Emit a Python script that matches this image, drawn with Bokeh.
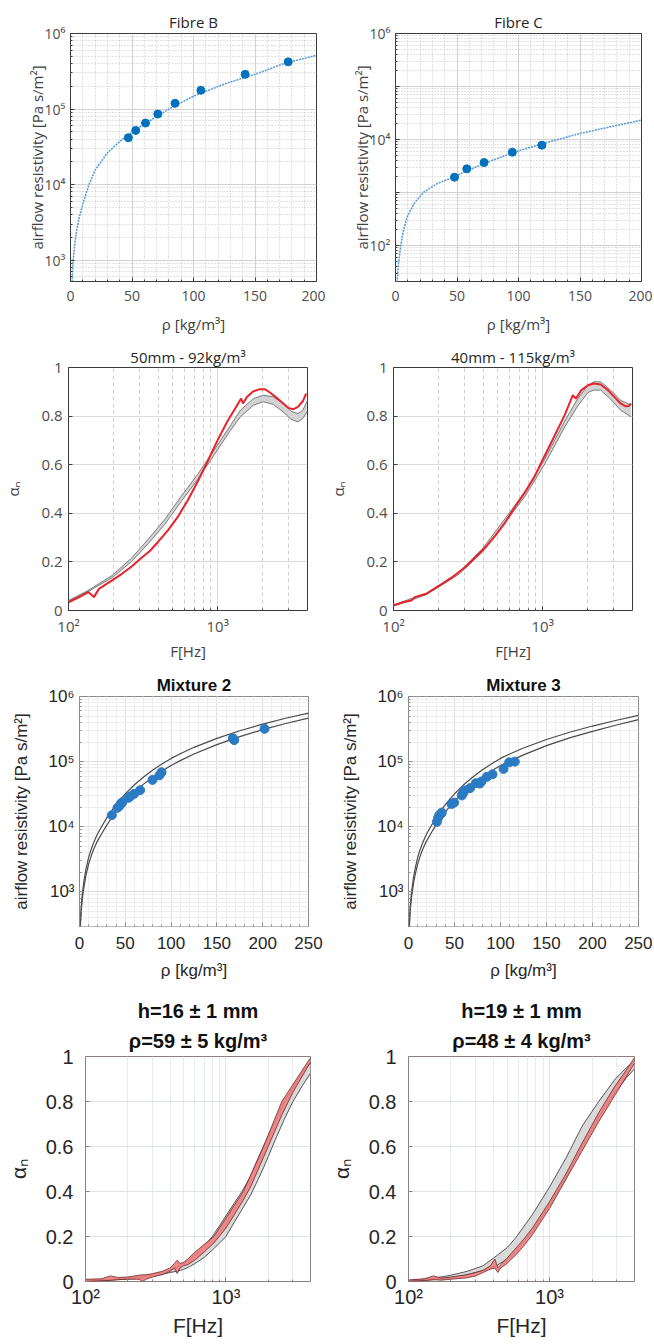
from bokeh.plotting import figure
from bokeh.models import Range1d, FixedTicker, CustomJSTickFormatter, Title
from bokeh.layouts import column, row
from bokeh.embed import file_html
from bokeh.resources import INLINE

# ---------------- data ----------------
# Fibre B
fibB_rho = [47, 53, 61, 71, 85, 106, 142, 177]
fibB_sigma = [41700, 52100, 65200, 85900, 119000, 177000, 288000, 421000]
fitB_rho = [1.0, 1.35, 1.7, 2.2, 3, 4, 5, 7, 10, 15, 20, 30, 40, 50, 60, 80, 100, 125, 150, 175, 200]
fitB_sigma = [300, 525, 740, 1000, 1380, 1900, 2450, 3630, 5500, 10000, 15500, 26300, 37200,
              49000, 63100, 100000, 148000, 214000, 288000, 407000, 513000]
# Fibre C
fibC_rho = [48, 58, 72, 95, 119]
fibC_sigma = [1950, 2800, 3680, 5770, 7820]
fitC_rho = [1.0, 1.4, 2, 2.7, 4, 5.4, 7, 9.5, 15, 23, 34, 47, 60, 80, 100, 125, 150, 175, 200]
fitC_sigma = [12, 21, 35, 52, 89, 145, 214, 347, 617, 1020, 1480, 1950, 2700, 4170, 6100,
              9040, 13000, 17400, 23200]

# 50mm - 92 kg/m3
f3_red = [100, 118, 136, 148, 160, 196, 228, 265, 309, 351, 398, 464, 540, 629, 732, 852, 990,
          1155, 1350, 1435, 1478, 1570, 1735, 1920, 2070, 2240, 2490, 2750, 2970, 3200, 3450,
          3720, 3920]
a3_red = [0.034, 0.055, 0.076, 0.055, 0.089, 0.124, 0.151, 0.181, 0.217, 0.245, 0.282, 0.33,
          0.385, 0.453, 0.529, 0.611, 0.696, 0.776, 0.845, 0.872, 0.852, 0.879, 0.902, 0.911,
          0.911, 0.897, 0.875, 0.852, 0.834, 0.828, 0.838, 0.861, 0.893]
f3_band = [100, 135, 196, 265, 342, 441, 569, 732, 944, 1220, 1420, 1735, 2020, 2360, 2750,
           3100, 3450, 3720, 3960]
a3_up = [0.041, 0.082, 0.144, 0.216, 0.293, 0.374, 0.47, 0.559, 0.659, 0.762, 0.824, 0.872,
         0.886, 0.879, 0.852, 0.82, 0.81, 0.824, 0.859]
a3_lo = [0.038, 0.078, 0.135, 0.202, 0.275, 0.354, 0.449, 0.538, 0.639, 0.742, 0.797, 0.845,
         0.859, 0.848, 0.817, 0.787, 0.776, 0.79, 0.817]

# 40mm - 115 kg/m3
f4_red = [100, 116, 132, 139, 166, 204, 243, 256, 306, 356, 415, 483, 563, 656, 763, 889, 1035,
          1206, 1404, 1592, 1670, 1818, 2011, 2200, 2450, 2735, 3020, 3330, 3580, 3780, 3910]
a4_red = [0.021, 0.034, 0.041, 0.055, 0.069, 0.103, 0.133, 0.144, 0.181, 0.22, 0.261, 0.309,
          0.364, 0.429, 0.488, 0.556, 0.639, 0.721, 0.804, 0.886, 0.872, 0.907, 0.927, 0.934,
          0.93, 0.907, 0.879, 0.852, 0.841, 0.842, 0.852]
f4_band = [100, 166, 276, 394, 563, 763, 1035, 1404, 1720, 2011, 2200, 2450, 2850, 3330, 3910]
a4_up = [0.023, 0.071, 0.158, 0.254, 0.38, 0.49, 0.625, 0.779, 0.872, 0.927, 0.941, 0.941,
         0.907, 0.865, 0.845]
a4_lo = [0.018, 0.065, 0.15, 0.24, 0.364, 0.471, 0.604, 0.755, 0.842, 0.897, 0.907, 0.907,
         0.87, 0.824, 0.797]

# Mixture 2
mix2_rho = [35.3, 41.5, 43.7, 45.1, 46.9, 53.5, 55.3, 59.7, 66.2, 79.7, 87.3, 89.5, 167.4, 168.9, 202]
mix2_sigma = [15100, 19600, 21000, 22600, 23900, 27900, 29200, 32100, 36500, 52500, 61700,
              68700, 229000, 214000, 319000]
band_rho = [0.6, 1.1, 2, 3.3, 5, 7, 9.8, 12, 15, 19, 24, 30, 35, 40, 45, 50, 60, 70, 80, 90,
            100, 110, 125, 150, 175, 200, 225, 250]
mix2_up = [240, 380, 631, 1000, 1514, 2213, 3311, 4217, 5495, 7413, 10000, 13804, 17579, 21878,
           26607, 31989, 44157, 58210, 74473, 92257, 112202, 132434, 165959, 228034, 298538,
           377572, 463447, 557186]
mix2_lo = [214, 331, 537, 832, 1230, 1778, 2630, 3311, 4365, 5821, 7762, 10715, 13646, 16982,
           20654, 24831, 34277, 45186, 57810, 71614, 87096, 103753, 130918, 182810, 242661,
           309742, 384592, 465586]
# Mixture 3
mix3_rho = [30.8, 32.2, 33.3, 35.1, 36.2, 46.7, 49.6, 58, 59.4, 61.2, 67, 73.2, 77.5, 79.3,
            85.1, 91.3, 103.3, 109.4, 115.6]
mix3_sigma = [11900, 13700, 14900, 15800, 16500, 22400, 23500, 30300, 33000, 36200, 39300,
              46800, 46200, 49500, 58400, 64100, 77300, 97700, 100000]
mix3_up = [240, 380, 631, 1000, 1514, 2213, 3311, 4217, 5495, 7413, 10000, 13804, 17579, 21878,
           26607, 31989, 44157, 58210, 74473, 92257, 112202, 131000, 162000, 219000, 283000,
           352000, 428000, 513000]
mix3_lo = [214, 331, 537, 832, 1230, 1778, 2630, 3311, 4365, 5821, 7762, 10715, 13646, 16982,
           20654, 24831, 34277, 45186, 57810, 71614, 87096, 102000, 127000, 176000, 232000,
           292000, 362000, 442000]

# h=16 mm
f7_band = [100, 150, 200, 250, 300, 350, 400, 450, 500, 560, 620, 700, 800, 900, 1000, 1150,
           1300, 1500, 1700, 1850, 2000, 2300, 2600, 3000, 3500, 4000]
a7_up = [0.005, 0.01, 0.016, 0.023, 0.032, 0.041, 0.05, 0.066, 0.082, 0.1, 0.125, 0.157, 0.2,
         0.248, 0.292, 0.35, 0.4, 0.468, 0.55, 0.6, 0.645, 0.73, 0.8, 0.865, 0.93, 0.97]
a7_lo = [0.002, 0.006, 0.011, 0.016, 0.023, 0.032, 0.04, 0.046, 0.054, 0.068, 0.085, 0.107,
         0.14, 0.171, 0.2, 0.265, 0.32, 0.385, 0.455, 0.505, 0.555, 0.645, 0.72, 0.8, 0.87, 0.925]
f7_meas = [100, 130, 150, 170, 200, 240, 255, 270, 300, 350, 400, 430, 450, 470, 500, 535, 600,
           700, 820, 1000, 1150, 1330, 1500, 1700, 1850, 2100, 2500, 3000, 3500, 4000]
a7_mup = [0.01, 0.012, 0.025, 0.018, 0.02, 0.028, 0.03, 0.03, 0.035, 0.045, 0.06, 0.08, 0.095,
          0.08, 0.085, 0.1, 0.13, 0.165, 0.2, 0.282, 0.34, 0.4, 0.473, 0.548, 0.6, 0.684, 0.8,
          0.876, 0.94, 0.995]
a7_mlo = [0.0, 0.003, 0.005, 0.008, 0.01, 0.01, 0.0, 0.01, 0.02, 0.03, 0.045, 0.06, 0.035, 0.06,
          0.07, 0.075, 0.095, 0.131, 0.171, 0.237, 0.298, 0.362, 0.421, 0.499, 0.551, 0.631,
          0.74, 0.841, 0.913, 0.975]
# h=19 mm
f8_band = [100, 150, 197, 260, 338, 420, 500, 580, 760, 1000, 1310, 1700, 2230, 2920, 3500, 4000]
a8_up = [0.004, 0.015, 0.027, 0.045, 0.07, 0.114, 0.15, 0.197, 0.30, 0.42, 0.55, 0.69, 0.80,
         0.90, 0.95, 0.98]
a8_lo = [0.002, 0.008, 0.015, 0.03, 0.049, 0.07, 0.1, 0.135, 0.227, 0.34, 0.46, 0.60, 0.73,
         0.84, 0.905, 0.945]
f8_meas = [100, 130, 150, 170, 200, 258, 300, 338, 380, 410, 420, 430, 450, 494, 580, 660, 760,
           1000, 1310, 1700, 2230, 2920, 3500, 4000]
a8_mup = [0.007, 0.012, 0.025, 0.015, 0.02, 0.03, 0.04, 0.05, 0.07, 0.1, 0.08, 0.06, 0.075, 0.1,
          0.15, 0.19, 0.24, 0.355, 0.48, 0.615, 0.75, 0.87, 0.94, 0.995]
a8_mlo = [0.001, 0.004, 0.008, 0.006, 0.01, 0.016, 0.025, 0.04, 0.055, 0.06, 0.05, 0.04, 0.06,
          0.078, 0.12, 0.16, 0.21, 0.325, 0.455, 0.58, 0.71, 0.83, 0.91, 0.97]

# ---------------- helpers ----------------
SUP_CODE = """
const m = {"0":"\u2070","1":"\u00b9","2":"\u00b2","3":"\u00b3","4":"\u2074","5":"\u2075",
           "6":"\u2076","7":"\u2077","8":"\u2078","9":"\u2079","-":"\u207b"};
const e = Math.round(Math.log10(tick));
if (skip_odd && (e % 2 != 0)) { return ""; }
return "10" + String(e).split("").map(c => m[c]).join("");
"""
LIN_CODE = "return (Math.round(tick*10)/10).toString();"


def sup_fmt(skip_odd=False):
    return CustomJSTickFormatter(code=SUP_CODE, args=dict(skip_odd=skip_odd))


def log_ticker(e0, e1):
    major = [10.0 ** e for e in range(e0, e1 + 1)]
    minor = [k * 10.0 ** e for e in range(e0 - 1, e1 + 1) for k in range(2, 10)]
    return FixedTicker(ticks=major, minor_ticks=minor)


def base(w, h, xr, yr, xt, yt, bl, br, bt, bb):
    p = figure(width=w, height=h, x_range=Range1d(*xr), y_range=Range1d(*yr),
               x_axis_type=xt, y_axis_type=yt, output_backend="svg", toolbar_location=None,
               min_border_left=bl, min_border_right=br, min_border_top=bt, min_border_bottom=bb,
               background_fill_color="white", border_fill_color="white")
    return p


def style(p, font, tick_size, label_size, tick_color, label_color, outline):
    p.outline_line_color = outline
    p.outline_line_alpha = 1.0
    p.outline_line_width = 1
    for ax in (p.xaxis[0], p.yaxis[0]):
        ax.axis_line_color = None
        ax.major_tick_in = 4
        ax.major_tick_out = 0
        ax.minor_tick_in = 2
        ax.minor_tick_out = 0
        ax.major_tick_line_color = outline
        ax.minor_tick_line_color = outline
        ax.major_label_text_font = font
        ax.major_label_text_font_size = tick_size
        ax.major_label_text_color = tick_color
        ax.axis_label_text_font = font
        ax.axis_label_text_font_size = label_size
        ax.axis_label_text_color = label_color
        ax.axis_label_text_font_style = "normal"


def title(p, text, font, size, bold=False, standoff=3, color="#262626"):
    t = Title(text=text, align="center", text_font=font, text_font_size=size,
              text_font_style="bold" if bold else "normal", text_color=color, standoff=standoff)
    p.add_layout(t, "above")


F1 = "Open Sans"
F2 = "Liberation Sans"
BLUE = "#0072BD"

# ---------------- row 1 ----------------
def fibre_panel(w, bl, br, yr, ticker_e, skip, rho, sig, frho, fsig, ttl):
    p = base(w, 340, (0, 200), yr, "linear", "log", bl, br, 33, 59)
    title(p, ttl, F1, "15px", standoff=4)
    p.xaxis.ticker = FixedTicker(ticks=[0, 50, 100, 150, 200], minor_ticks=list(range(10, 200, 10)))
    p.yaxis.ticker = log_ticker(*ticker_e)
    p.yaxis.formatter = sup_fmt(skip)
    style(p, F1, "14px", "15px", "#4d4d4d", "#404040", "#3a3a3a")
    p.xaxis.axis_label = "\u03c1 [kg/m\u00b3]"
    p.yaxis.axis_label = "airflow resistivity [Pa s/m\u00b2]"
    p.xaxis.major_label_standoff = 9
    p.yaxis.major_label_standoff = 5
    p.yaxis.axis_label_standoff = -5
    p.xaxis.axis_label_standoff = 10
    for g in (p.xgrid, p.ygrid):
        g.grid_line_color = "#d2d2d2"
        g.minor_grid_line_color = "#c4c4c4"
        g.minor_grid_line_dash = "1 2"
    p.line(frho, fsig, line_color="#5b9bd5", line_width=1.6, line_dash="2 1")
    p.scatter(rho, sig, size=8, color=BLUE)
    return p

p1 = fibre_panel(325, 70, 9, (520, 1e6), (3, 6), False, fibB_rho, fibB_sigma, fitB_rho, fitB_sigma, "Fibre B")
p2 = fibre_panel(327, 70, 11, (21, 1e6), (2, 6), True, fibC_rho, fibC_sigma, fitC_rho, fitC_sigma, "Fibre C")

# ---------------- row 2 ----------------
def alpha_panel(w, bl, br, ttl, fb, up, lo, fr, ar):
    p = base(w, 332, (100, 4000), (0, 1), "log", "linear", bl, br, 27, 62)
    title(p, ttl, F1, "15px", standoff=2)
    p.xaxis.ticker = FixedTicker(ticks=[100, 1000], minor_ticks=[200, 300, 400, 500, 600, 700, 800, 900, 2000, 3000])
    p.xaxis.formatter = sup_fmt(False)
    p.yaxis.ticker = FixedTicker(ticks=[0, 0.2, 0.4, 0.6, 0.8, 1.0])
    p.yaxis.formatter = CustomJSTickFormatter(code=LIN_CODE)
    style(p, F1, "15px", "15px", "#4d4d4d", "#404040", "#3a3a3a")
    p.xaxis.axis_label = "F[Hz]"
    p.yaxis.axis_label = "\u03b1\u2099"
    p.xaxis.major_label_standoff = 5
    p.yaxis.major_label_standoff = 6
    p.yaxis.axis_label_standoff = 15
    p.xaxis.axis_label_standoff = 2
    p.ygrid.grid_line_color = "#dcdcdc"
    p.xgrid.grid_line_color = "#dcdcdc"
    p.xgrid.minor_grid_line_color = "#cfcfcf"
    p.xgrid.minor_grid_line_dash = "4 3"
    p.varea(x=fb, y1=lo, y2=up, fill_color="#d3d3d3")
    p.line(fb, up, line_color="#7a7a7a", line_width=1)
    p.line(fb, lo, line_color="#7a7a7a", line_width=1)
    p.line(fr, ar, line_color="#e8232a", line_width=2)
    return p

p3 = alpha_panel(325, 66, 18, "50mm - 92kg/m\u00b3", f3_band, a3_up, a3_lo, f3_red, a3_red)
p4 = alpha_panel(327, 67, 20, "40mm - 115kg/m\u00b3", f4_band, a4_up, a4_lo, f4_red, a4_red)

# ---------------- row 3 ----------------
def mix_panel(w, bl, br, ttl, rho, sig, up, lo):
    p = base(w, 313, (0, 250), (295, 1e6), "linear", "log", bl, br, 23, 59)
    title(p, ttl, F2, "17px", bold=True, standoff=3, color="#111111")
    p.xaxis.ticker = FixedTicker(ticks=[0, 50, 100, 150, 200, 250], minor_ticks=list(range(10, 250, 10)))
    p.yaxis.ticker = log_ticker(3, 6)
    p.yaxis.formatter = sup_fmt(False)
    style(p, F2, "17px", "17px", "#262626", "#262626", "#8a8a8a")
    p.xaxis.axis_label = "\u03c1 [kg/m\u00b3]"
    p.yaxis.axis_label = "airflow resistivity [Pa s/m\u00b2]"
    p.xaxis.major_label_standoff = 10
    p.yaxis.major_label_standoff = 5
    p.yaxis.axis_label_standoff = 14
    p.xaxis.axis_label_standoff = 9
    for g in (p.xgrid, p.ygrid):
        g.grid_line_color = "#dedede"
        g.minor_grid_line_color = "#eeeeee"
    p.line(band_rho, up, line_color="#4a4a4a", line_width=1.2)
    p.line(band_rho, lo, line_color="#4a4a4a", line_width=1.2)
    p.scatter(rho, sig, size=9, color="#2b7bc4")
    return p

p5 = mix_panel(325, 79, 17, "Mixture 2", mix2_rho, mix2_sigma, mix2_up, mix2_lo)
p6 = mix_panel(327, 83, 14, "Mixture 3", mix3_rho, mix3_sigma, mix3_up, mix3_lo)

# ---------------- row 4 ----------------
def abs_panel(w, bl, br, t1, t2, fb, up, lo, fm, mup, mlo):
    p = base(w, 357, (100, 4000), (0, 1), "log", "linear", bl, br, 71, 61)
    title(p, t2, F2, "20px", bold=True, standoff=9, color="#111111")
    title(p, t1, F2, "20px", bold=True, standoff=4, color="#111111")
    p.xaxis.ticker = FixedTicker(ticks=[100, 1000], minor_ticks=[200, 300, 400, 500, 600, 700, 800, 900, 2000, 3000])
    p.xaxis.formatter = sup_fmt(False)
    p.yaxis.ticker = FixedTicker(ticks=[0, 0.2, 0.4, 0.6, 0.8, 1.0])
    p.yaxis.formatter = CustomJSTickFormatter(code=LIN_CODE)
    style(p, F2, "20px", "21px", "#262626", "#262626", "#8c7f7f")
    p.xaxis.axis_label = "F[Hz]"
    p.yaxis.axis_label = "\u03b1\u2099"
    p.xaxis.major_label_standoff = 4
    p.yaxis.major_label_standoff = 12
    p.yaxis.axis_label_standoff = 13
    p.xaxis.axis_label_standoff = 3
    for g in (p.xgrid, p.ygrid):
        g.grid_line_color = "#dfe4ea"
        g.minor_grid_line_color = "#e8ecf0"
    p.varea(x=fb, y1=lo, y2=up, fill_color="#d9d9d9")
    p.line(fb, up, line_color="#555555", line_width=1)
    p.line(fb, lo, line_color="#555555", line_width=1)
    p.varea(x=fm, y1=mlo, y2=mup, fill_color="#ee7d7d", fill_alpha=0.9)
    p.line(fm, mup, line_color="#6b2a2a", line_width=0.8)
    p.line(fm, mlo, line_color="#6b2a2a", line_width=0.8)
    return p

p7 = abs_panel(325, 85, 15, "h=16 \u00b1 1 mm", "\u03c1=59 \u00b1 5 kg/m\u00b3",
               f7_band, a7_up, a7_lo, f7_meas, a7_mup, a7_mlo)
p8 = abs_panel(327, 83, 18, "h=19 \u00b1 1 mm", "\u03c1=48 \u00b1 4 kg/m\u00b3",
               f8_band, a8_up, a8_lo, f8_meas, a8_mup, a8_mlo)

layout = column(row(p1, p2), row(p3, p4), row(p5, p6), row(p7, p8))
open("out.html", "w").write(file_html(layout, INLINE))
